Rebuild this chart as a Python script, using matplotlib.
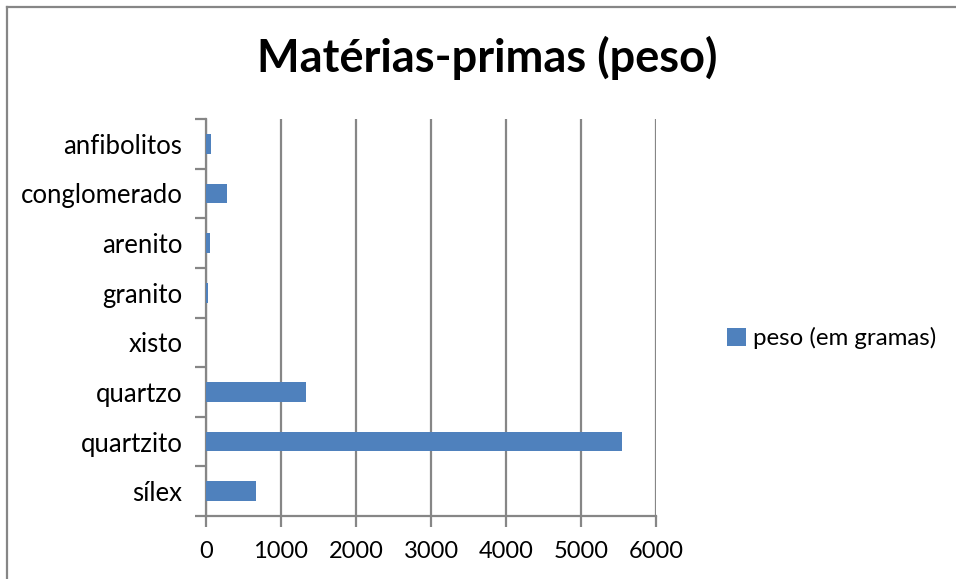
import matplotlib
matplotlib.use("Agg")
import matplotlib.pyplot as plt
from matplotlib.lines import Line2D
from matplotlib.patches import Patch
import numpy as np

categories = ["sílex", "quartzito", "quartzo", "xisto", "granito",
              "arenito", "conglomerado", "anfibolitos"]
peso = [663, 5546, 1330, 3, 20, 53, 276, 67]
x_ticks = [0, 1000, 2000, 3000, 4000, 5000, 6000]
series_name = "peso (em gramas)"
title = "Matérias-primas (peso)"

W, H = 956, 579
plt.rcParams["font.family"] = ["Lato", "DejaVu Sans"]

fig = plt.figure(figsize=(W / 100, H / 100), dpi=100)
ax = fig.add_axes([206 / W, 1 - 516 / H, 450 / W, 397 / H])

grey = "#868686"
bar_color = "#4F81BD"

y = np.arange(len(categories))
ax.barh(y, peso, height=0.4, color=bar_color, zorder=3)

ax.set_xlim(0, 6000)
ax.set_ylim(-0.5, len(categories) - 0.5)

ax.set_xticks(x_ticks)
ax.set_xticklabels([str(v) for v in x_ticks], fontsize=17)
ax.xaxis.grid(True, color=grey, linewidth=1.6, zorder=0)

ax.set_yticks(y)
ax.set_yticklabels(categories, fontsize=18.5)
ax.set_yticks(np.arange(-0.5, len(categories), 1.0), minor=True)

ax.tick_params(axis="y", which="major", length=0, pad=17)
ax.tick_params(axis="y", which="minor", length=8, width=1.6, color=grey, direction="out")
ax.tick_params(axis="x", which="major", length=8, width=1.6, color=grey, direction="out", pad=10)

for side in ("top", "right"):
    ax.spines[side].set_visible(False)
for side in ("left", "bottom"):
    ax.spines[side].set_color(grey)
    ax.spines[side].set_linewidth(1.6)

fig.text(487 / W, 1 - 58 / H, title, ha="center", va="center",
         fontsize=32.5, fontweight="bold")

handles = [Patch(facecolor=bar_color, edgecolor="none", label=series_name)]
fig.legend(handles=handles, loc="center left", bbox_to_anchor=(717 / W, 1 - 338 / H),
           frameon=False, fontsize=17.3, handlelength=0.8, handleheight=0.8,
           handletextpad=0.3, borderaxespad=0)

# outer chart frame (left and top edges)
fig.add_artist(Line2D([6.5 / W, 6.5 / W], [0, 1 - 7 / H], transform=fig.transFigure,
                      color=grey, linewidth=1.6))
fig.add_artist(Line2D([6.5 / W, 1], [1 - 7 / H, 1 - 7 / H], transform=fig.transFigure,
                      color=grey, linewidth=1.6))

fig.savefig("out.png", dpi=100, facecolor="white")
